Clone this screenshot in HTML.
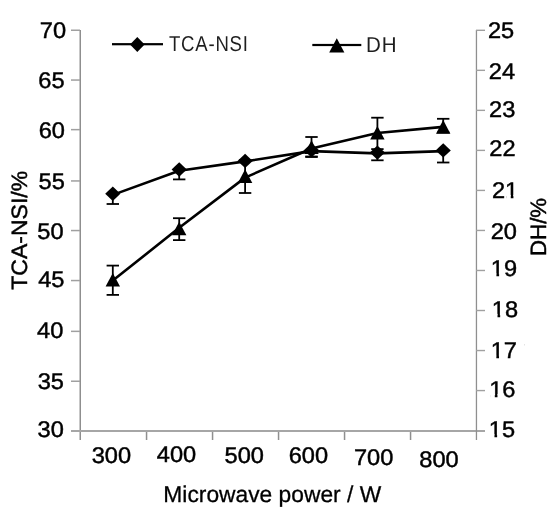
<!DOCTYPE html><html><head><meta charset="utf-8"><style>html,body{margin:0;padding:0;background:#fff;width:550px;height:510px;overflow:hidden}svg{display:block;will-change:transform}text{font-family:"Liberation Sans",sans-serif;text-rendering:geometricPrecision;fill:#000;stroke:#000;stroke-width:0.45px}text.lg{stroke-width:0;fill:#1e1e1e}text.tt{stroke-width:0.3px}</style></head><body>
<svg width="550" height="510" viewBox="0 0 550 510">
<rect x="79.5" y="30" width="1.5" height="410" fill="#8f8f8f"/>
<rect x="71" y="430" width="414" height="2" fill="#a6a6a6"/>
<rect x="475.8" y="30" width="1.3" height="410" fill="#8f8f8f"/>
<rect x="71" y="29.5" width="9" height="1.5" fill="#a0a0a0"/>
<rect x="71" y="79.3" width="9" height="1.5" fill="#a0a0a0"/>
<rect x="71" y="128.9" width="9" height="1.5" fill="#a0a0a0"/>
<rect x="71" y="180.2" width="9" height="1.5" fill="#a0a0a0"/>
<rect x="71" y="229.8" width="9" height="1.5" fill="#a0a0a0"/>
<rect x="71" y="279.8" width="9" height="1.5" fill="#a0a0a0"/>
<rect x="71" y="330.6" width="9" height="1.5" fill="#a0a0a0"/>
<rect x="71" y="380.5" width="9" height="1.5" fill="#a0a0a0"/>
<rect x="476" y="29.6" width="9" height="1.4" fill="#a0a0a0"/>
<rect x="476" y="69.63" width="9" height="1.4" fill="#a0a0a0"/>
<rect x="476" y="109.66" width="9" height="1.4" fill="#a0a0a0"/>
<rect x="476" y="149.69" width="9" height="1.4" fill="#a0a0a0"/>
<rect x="476" y="189.72" width="9" height="1.4" fill="#a0a0a0"/>
<rect x="476" y="229.75" width="9" height="1.4" fill="#a0a0a0"/>
<rect x="476" y="269.78000000000003" width="9" height="1.4" fill="#a0a0a0"/>
<rect x="476" y="309.81" width="9" height="1.4" fill="#a0a0a0"/>
<rect x="476" y="349.84000000000003" width="9" height="1.4" fill="#a0a0a0"/>
<rect x="476" y="389.87" width="9" height="1.4" fill="#a0a0a0"/>
<rect x="145.8" y="432" width="1.5" height="8" fill="#8f8f8f"/>
<rect x="211.8" y="432" width="1.5" height="8" fill="#8f8f8f"/>
<rect x="277.8" y="432" width="1.5" height="8" fill="#8f8f8f"/>
<rect x="343.8" y="432" width="1.5" height="8" fill="#8f8f8f"/>
<rect x="409.8" y="432" width="1.5" height="8" fill="#8f8f8f"/>
<text transform="translate(52.88,38.33) scale(1.045,1)" font-size="22.6" text-anchor="middle">70</text>
<text transform="translate(51.50,87.69) scale(1.045,1)" font-size="22.6" text-anchor="middle">65</text>
<text transform="translate(51.79,138.01) scale(1.045,1)" font-size="22.6" text-anchor="middle">60</text>
<text transform="translate(51.71,189.13) scale(1.045,1)" font-size="22.6" text-anchor="middle">55</text>
<text transform="translate(50.47,238.68) scale(1.045,1)" font-size="22.6" text-anchor="middle">50</text>
<text transform="translate(51.29,287.11) scale(1.045,1)" font-size="22.6" text-anchor="middle">45</text>
<text transform="translate(50.22,338.16) scale(1.045,1)" font-size="22.6" text-anchor="middle">40</text>
<text transform="translate(50.84,389.39) scale(1.045,1)" font-size="22.6" text-anchor="middle">35</text>
<text transform="translate(50.72,436.94) scale(1.045,1)" font-size="22.6" text-anchor="middle">30</text>
<text transform="translate(501.12,38.07) scale(1.045,1)" font-size="22.6" text-anchor="middle">25</text>
<text transform="translate(501.96,78.53) scale(1.045,1)" font-size="22.6" text-anchor="middle">24</text>
<text transform="translate(502.13,117.23) scale(1.045,1)" font-size="22.6" text-anchor="middle">23</text>
<text transform="translate(502.39,156.46) scale(1.045,1)" font-size="22.6" text-anchor="middle">22</text>
<text transform="translate(505.11,197.64) scale(1.045,1)" font-size="22.6" text-anchor="middle">21</text>
<text transform="translate(503.83,238.85) scale(1.045,1)" font-size="22.6" text-anchor="middle">20</text>
<text transform="translate(503.91,276.10) scale(1.045,1)" font-size="22.6" text-anchor="middle">19</text>
<text transform="translate(504.99,316.56) scale(1.045,1)" font-size="22.6" text-anchor="middle">18</text>
<text transform="translate(503.83,358.47) scale(1.045,1)" font-size="22.6" text-anchor="middle">17</text>
<text transform="translate(502.29,396.70) scale(1.045,1)" font-size="22.6" text-anchor="middle">16</text>
<text transform="translate(501.93,436.82) scale(1.045,1)" font-size="22.6" text-anchor="middle">15</text>
<text transform="translate(111.37,463.49) scale(1.045,1)" font-size="22.6" text-anchor="middle">300</text>
<text transform="translate(176.44,462.24) scale(1.045,1)" font-size="22.6" text-anchor="middle">400</text>
<text transform="translate(244.20,462.73) scale(1.045,1)" font-size="22.6" text-anchor="middle">500</text>
<text transform="translate(308.42,463.03) scale(1.045,1)" font-size="22.6" text-anchor="middle">600</text>
<text transform="translate(373.58,464.75) scale(1.045,1)" font-size="22.6" text-anchor="middle">700</text>
<text transform="translate(439.00,467.07) scale(1.045,1)" font-size="22.6" text-anchor="middle">800</text>
<rect x="506.26" y="194.95" width="4.49" height="4.89" fill="#fff"/>
<rect x="513.43" y="194.95" width="4.66" height="4.89" fill="#fff"/>
<rect x="491.93" y="273.41" width="4.49" height="4.89" fill="#fff"/>
<rect x="499.10" y="273.41" width="4.66" height="4.89" fill="#fff"/>
<rect x="493.01" y="313.88" width="4.49" height="4.89" fill="#fff"/>
<rect x="500.18" y="313.88" width="4.66" height="4.89" fill="#fff"/>
<rect x="491.85" y="355.78" width="4.49" height="4.89" fill="#fff"/>
<rect x="499.02" y="355.78" width="4.66" height="4.89" fill="#fff"/>
<rect x="490.30" y="394.01" width="4.49" height="4.89" fill="#fff"/>
<rect x="497.48" y="394.01" width="4.66" height="4.89" fill="#fff"/>
<rect x="489.95" y="434.13" width="4.49" height="4.89" fill="#fff"/>
<rect x="497.12" y="434.13" width="4.66" height="4.89" fill="#fff"/>
<text class="tt" transform="translate(272.28,501.51) scale(1.0,1)" font-size="22.8" text-anchor="middle">Microwave power / W</text>
<text transform="translate(26.73,230.28) rotate(-90) scale(1.036,1)" font-size="22.2" text-anchor="middle">TCA-NSI/%</text>
<text transform="translate(545.75,226.95) rotate(-90)" font-size="22.2" text-anchor="middle">DH/%</text>
<rect x="112" y="43.1" width="51" height="2.2" fill="#000"/>
<polygon points="137.3,36.9 144.6,44.4 137.3,52 130,44.4" fill="#000"/>
<text class="lg" transform="translate(169.0,51.4) scale(0.86,1)" font-size="21.6" letter-spacing="0.9">TCA-NSI</text>
<rect x="312.3" y="43.9" width="49" height="2.2" fill="#000"/>
<polygon points="336.8,38.3 344.4,52.5 329.2,52.5" fill="#000"/>
<text class="lg" transform="translate(366.0,52.4) scale(0.95,1)" font-size="21.6" letter-spacing="0.9">DH</text>
<polyline points="112.8,280.6 179.2,227.8 245.1,177.6 311.5,148.5 377.4,133.0 443.2,126.9" fill="none" stroke="#000" stroke-width="2.6" stroke-linejoin="round"/>
<line x1="112.8" y1="265.6" x2="112.8" y2="294.9" stroke="#000" stroke-width="1.8"/>
<line x1="106.6" y1="265.6" x2="119.0" y2="265.6" stroke="#000" stroke-width="1.8"/>
<line x1="106.6" y1="294.9" x2="119.0" y2="294.9" stroke="#000" stroke-width="1.8"/>
<line x1="179.2" y1="218.2" x2="179.2" y2="240.1" stroke="#000" stroke-width="1.8"/>
<line x1="173.0" y1="218.2" x2="185.39999999999998" y2="218.2" stroke="#000" stroke-width="1.8"/>
<line x1="173.0" y1="240.1" x2="185.39999999999998" y2="240.1" stroke="#000" stroke-width="1.8"/>
<line x1="245.1" y1="160.0" x2="245.1" y2="193.0" stroke="#000" stroke-width="1.8"/>
<line x1="238.9" y1="160.0" x2="251.29999999999998" y2="160.0" stroke="#000" stroke-width="1.8"/>
<line x1="238.9" y1="193.0" x2="251.29999999999998" y2="193.0" stroke="#000" stroke-width="1.8"/>
<line x1="311.5" y1="137.0" x2="311.5" y2="156.5" stroke="#000" stroke-width="1.8"/>
<line x1="305.3" y1="137.0" x2="317.7" y2="137.0" stroke="#000" stroke-width="1.8"/>
<line x1="305.3" y1="156.5" x2="317.7" y2="156.5" stroke="#000" stroke-width="1.8"/>
<line x1="377.4" y1="117.7" x2="377.4" y2="149.1" stroke="#000" stroke-width="1.8"/>
<line x1="371.2" y1="117.7" x2="383.59999999999997" y2="117.7" stroke="#000" stroke-width="1.8"/>
<line x1="371.2" y1="149.1" x2="383.59999999999997" y2="149.1" stroke="#000" stroke-width="1.8"/>
<line x1="443.2" y1="118.8" x2="443.2" y2="132.5" stroke="#000" stroke-width="1.8"/>
<line x1="437.0" y1="118.8" x2="449.4" y2="118.8" stroke="#000" stroke-width="1.8"/>
<line x1="437.0" y1="132.5" x2="449.4" y2="132.5" stroke="#000" stroke-width="1.8"/>
<polygon points="112.8,272.90000000000003 120.0,286.5 105.6,286.5" fill="#000"/>
<polygon points="179.2,221.70000000000002 186.39999999999998,235.3 172.0,235.3" fill="#000"/>
<polygon points="245.1,169.3 252.29999999999998,182.9 237.9,182.9" fill="#000"/>
<polygon points="311.5,140.3 318.7,153.9 304.3,153.9" fill="#000"/>
<polygon points="377.4,125.99999999999999 384.59999999999997,139.6 370.2,139.6" fill="#000"/>
<polygon points="443.2,120.1 450.4,133.7 436.0,133.7" fill="#000"/>
<polyline points="112.8,194.9 179.2,170.7 245.1,161.4 311.5,151.1 377.4,153.4 443.2,151.1" fill="none" stroke="#000" stroke-width="2.6" stroke-linejoin="round"/>
<line x1="112.8" y1="193.8" x2="112.8" y2="204.0" stroke="#000" stroke-width="1.8"/>
<line x1="106.6" y1="204.0" x2="119.0" y2="204.0" stroke="#000" stroke-width="1.8"/>
<line x1="179.2" y1="169.5" x2="179.2" y2="179.4" stroke="#000" stroke-width="1.8"/>
<line x1="173.0" y1="179.4" x2="185.39999999999998" y2="179.4" stroke="#000" stroke-width="1.8"/>
<line x1="311.5" y1="150.3" x2="311.5" y2="157.0" stroke="#000" stroke-width="1.8"/>
<line x1="305.3" y1="157.0" x2="317.7" y2="157.0" stroke="#000" stroke-width="1.8"/>
<line x1="377.4" y1="152.6" x2="377.4" y2="160.3" stroke="#000" stroke-width="1.8"/>
<line x1="371.2" y1="160.3" x2="383.59999999999997" y2="160.3" stroke="#000" stroke-width="1.8"/>
<line x1="443.2" y1="150.4" x2="443.2" y2="162.5" stroke="#000" stroke-width="1.8"/>
<line x1="437.0" y1="162.5" x2="449.4" y2="162.5" stroke="#000" stroke-width="1.8"/>
<polygon points="112.8,186.60000000000002 120.39999999999999,193.8 112.8,201.0 105.2,193.8" fill="#000"/>
<polygon points="179.2,162.3 186.79999999999998,169.5 179.2,176.7 171.6,169.5" fill="#000"/>
<polygon points="245.1,153.70000000000002 252.7,160.9 245.1,168.1 237.5,160.9" fill="#000"/>
<polygon points="311.5,143.10000000000002 319.1,150.3 311.5,157.5 303.9,150.3" fill="#000"/>
<polygon points="377.4,145.4 385.0,152.6 377.4,159.79999999999998 369.79999999999995,152.6" fill="#000"/>
<polygon points="443.2,143.20000000000002 450.8,150.4 443.2,157.6 435.59999999999997,150.4" fill="#000"/>
<rect x="524" y="344" width="1" height="1.5" fill="#e4e4e4"/>
</svg></body></html>
